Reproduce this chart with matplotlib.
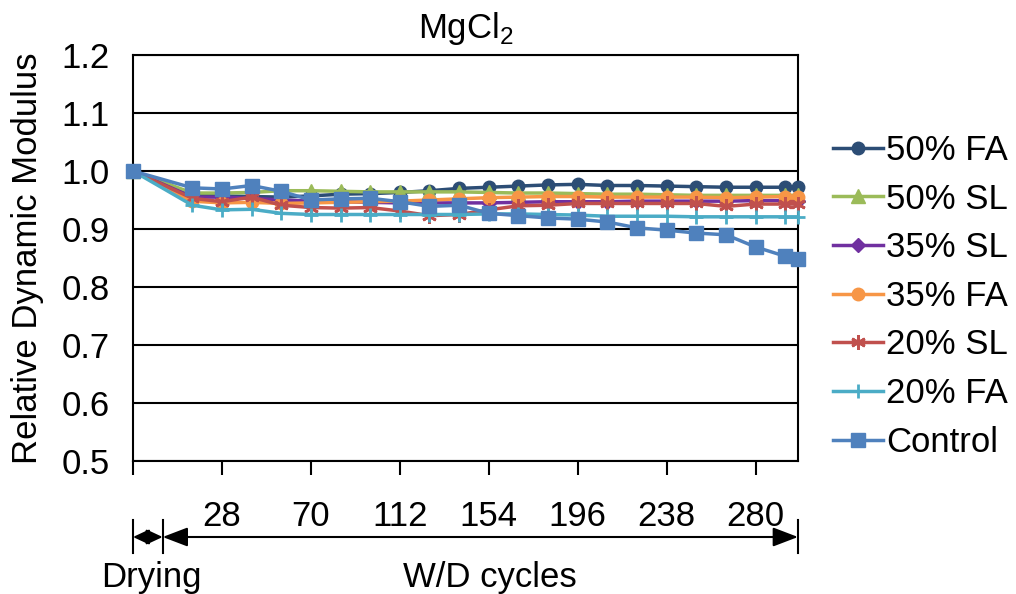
import matplotlib
matplotlib.use("Agg")
import matplotlib.pyplot as plt
from matplotlib.transforms import blended_transform_factory

plt.rcParams['font.family'] = ['Liberation Sans', 'DejaVu Sans']
plt.rcParams['mathtext.fontset'] = 'custom'
plt.rcParams['mathtext.rm'] = 'Liberation Sans'

cycles = [-14, 14, 28, 42, 56, 70, 84, 98, 112, 126, 140, 154, 168, 182,
          196, 210, 224, 238, 252, 266, 280, 294, 300]

fa50 = [1.0, 0.958, 0.957, 0.956, 0.955, 0.957, 0.960, 0.961, 0.963, 0.966, 0.970,
        0.972, 0.974, 0.976, 0.977, 0.975, 0.975, 0.974, 0.973, 0.972, 0.972, 0.972, 0.972]
sl50 = [1.0, 0.962, 0.962, 0.963, 0.966, 0.966, 0.965, 0.964, 0.964, 0.964, 0.964,
        0.963, 0.962, 0.962, 0.961, 0.960, 0.960, 0.959, 0.958, 0.958, 0.958, 0.958, 0.958]
sl35 = [1.0, 0.955, 0.955, 0.953, 0.950, 0.948, 0.947, 0.946, 0.945, 0.945, 0.945,
        0.945, 0.946, 0.947, 0.947, 0.947, 0.948, 0.948, 0.948, 0.948, 0.949, 0.949, 0.949]
fa35 = [1.0, 0.948, 0.945, 0.946, 0.944, 0.945, 0.946, 0.947, 0.948, 0.950, 0.952,
        0.954, 0.955, 0.956, 0.956, 0.955, 0.955, 0.955, 0.955, 0.954, 0.955, 0.956, 0.956]
sl20 = [1.0, 0.953, 0.947, 0.955, 0.941, 0.937, 0.936, 0.937, 0.931, 0.923, 0.925,
        0.933, 0.940, 0.941, 0.944, 0.944, 0.944, 0.944, 0.944, 0.939, 0.943, 0.943, 0.943]
fa20 = [1.0, 0.941, 0.933, 0.934, 0.927, 0.925, 0.925, 0.925, 0.925, 0.925, 0.925,
        0.926, 0.926, 0.925, 0.924, 0.922, 0.922, 0.922, 0.921, 0.921, 0.921, 0.921, 0.921]
control = [1.0, 0.971, 0.969, 0.975, 0.965, 0.950, 0.952, 0.953, 0.947, 0.939, 0.941,
           0.927, 0.923, 0.919, 0.917, 0.912, 0.902, 0.898, 0.893, 0.890, 0.869, 0.853, 0.849]

series_names = ["50% FA", "50% SL", "35% SL", "35% FA", "20% SL", "20% FA", "Control"]
xtick_vals = [-14, 28, 70, 112, 154, 196, 238, 280]
xtick_labels = ["", "28", "70", "112", "154", "196", "238", "280"]
yticks = [0.5, 0.6, 0.7, 0.8, 0.9, 1.0, 1.1, 1.2]

styles = [
    dict(color="#2C4D75", marker="o", ms=9),
    dict(color="#9BBB59", marker="^", ms=9.5),
    dict(color="#7030A0", marker="D", ms=7),
    dict(color="#F79646", marker="o", ms=9),
    dict(color="#C0504D", marker=(6, 2, 0), ms=10.5, mew=2),
    dict(color="#4BACC6", marker="+", ms=10.5, mew=2),
    dict(color="#4F81BD", marker="s", ms=10),
]

FS = 25
W, H = 1016, 594
fig = plt.figure(figsize=(W / 100, H / 100), dpi=100)
ax = fig.add_axes([133 / W, 1 - 461 / H, (798 - 133) / W, (461 - 55) / H])

data = [fa50, sl50, sl35, fa35, sl20, fa20, control]
for i, (name, vals, st) in enumerate(zip(series_names, data, styles)):
    kw = dict(color=st["color"], marker=st["marker"], markersize=st["ms"], lw=2.5,
              label=name, zorder=3 + i, clip_on=False)
    if "mew" in st:
        kw["markeredgewidth"] = st["mew"]
    ax.plot(cycles, vals, **kw)

ax.set_xlim(-14, 300)
ax.set_ylim(0.5, 1.2)
ax.set_yticks(yticks)
ax.set_yticklabels([f"{v:.1f}" for v in yticks])
ax.set_xticks(xtick_vals)
ax.set_xticklabels(xtick_labels)
ax.yaxis.grid(True, color="black", lw=1.5, zorder=1)
ax.set_axisbelow(True)
for sp in ax.spines.values():
    sp.set_color("black")
    sp.set_linewidth(1.5)
ax.tick_params(axis="y", length=0, pad=17, labelsize=FS)
ax.tick_params(axis="x", length=10, width=1.5, direction="out", pad=18, labelsize=FS)

ax.set_ylabel("Relative Dynamic Modulus", fontsize=FS, labelpad=12)
ax.set_title(r"MgCl$_\mathregular{2}$", fontsize=FS, pad=12)

leg = fig.legend(loc="upper left", bbox_to_anchor=(833 / W, 1 - 134 / H), frameon=False,
                 fontsize=FS, handlelength=1.45, handletextpad=0.08, labelspacing=0.45,
                 borderpad=0, borderaxespad=0)

# Drying / W-D cycles annotation below the axis
tr = blended_transform_factory(ax.transData, fig.transFigure)
ybar0, ybar1 = 1 - 553 / H, 1 - 520 / H
yarr = 1 - 537 / H
for xv in [-14, 0, 300]:
    ax.plot([xv, xv], [ybar0, ybar1], color="black", lw=1.5, transform=tr, clip_on=False)
small_kw = dict(arrowstyle="<|-|>,head_length=0.75,head_width=0.35", color="black", lw=1.5,
                shrinkA=0, shrinkB=0, mutation_scale=13)
big_kw = dict(arrowstyle="<|-|>,head_length=1.1,head_width=0.42", color="black", lw=1.5,
              shrinkA=0, shrinkB=0, mutation_scale=14)
ax.annotate("", xy=(0, yarr), xytext=(-14, yarr), xycoords=tr, textcoords=tr,
            arrowprops=small_kw, annotation_clip=False)
ax.annotate("", xy=(300, yarr), xytext=(0, yarr), xycoords=tr, textcoords=tr,
            arrowprops=big_kw, annotation_clip=False)
fig.text(151 / W, 1 - 577 / H, "Drying", ha="center", va="center", fontsize=FS)
fig.text(490 / W, 1 - 577 / H, "W/D cycles", ha="center", va="center", fontsize=FS)

fig.savefig("out.png", dpi=100)
